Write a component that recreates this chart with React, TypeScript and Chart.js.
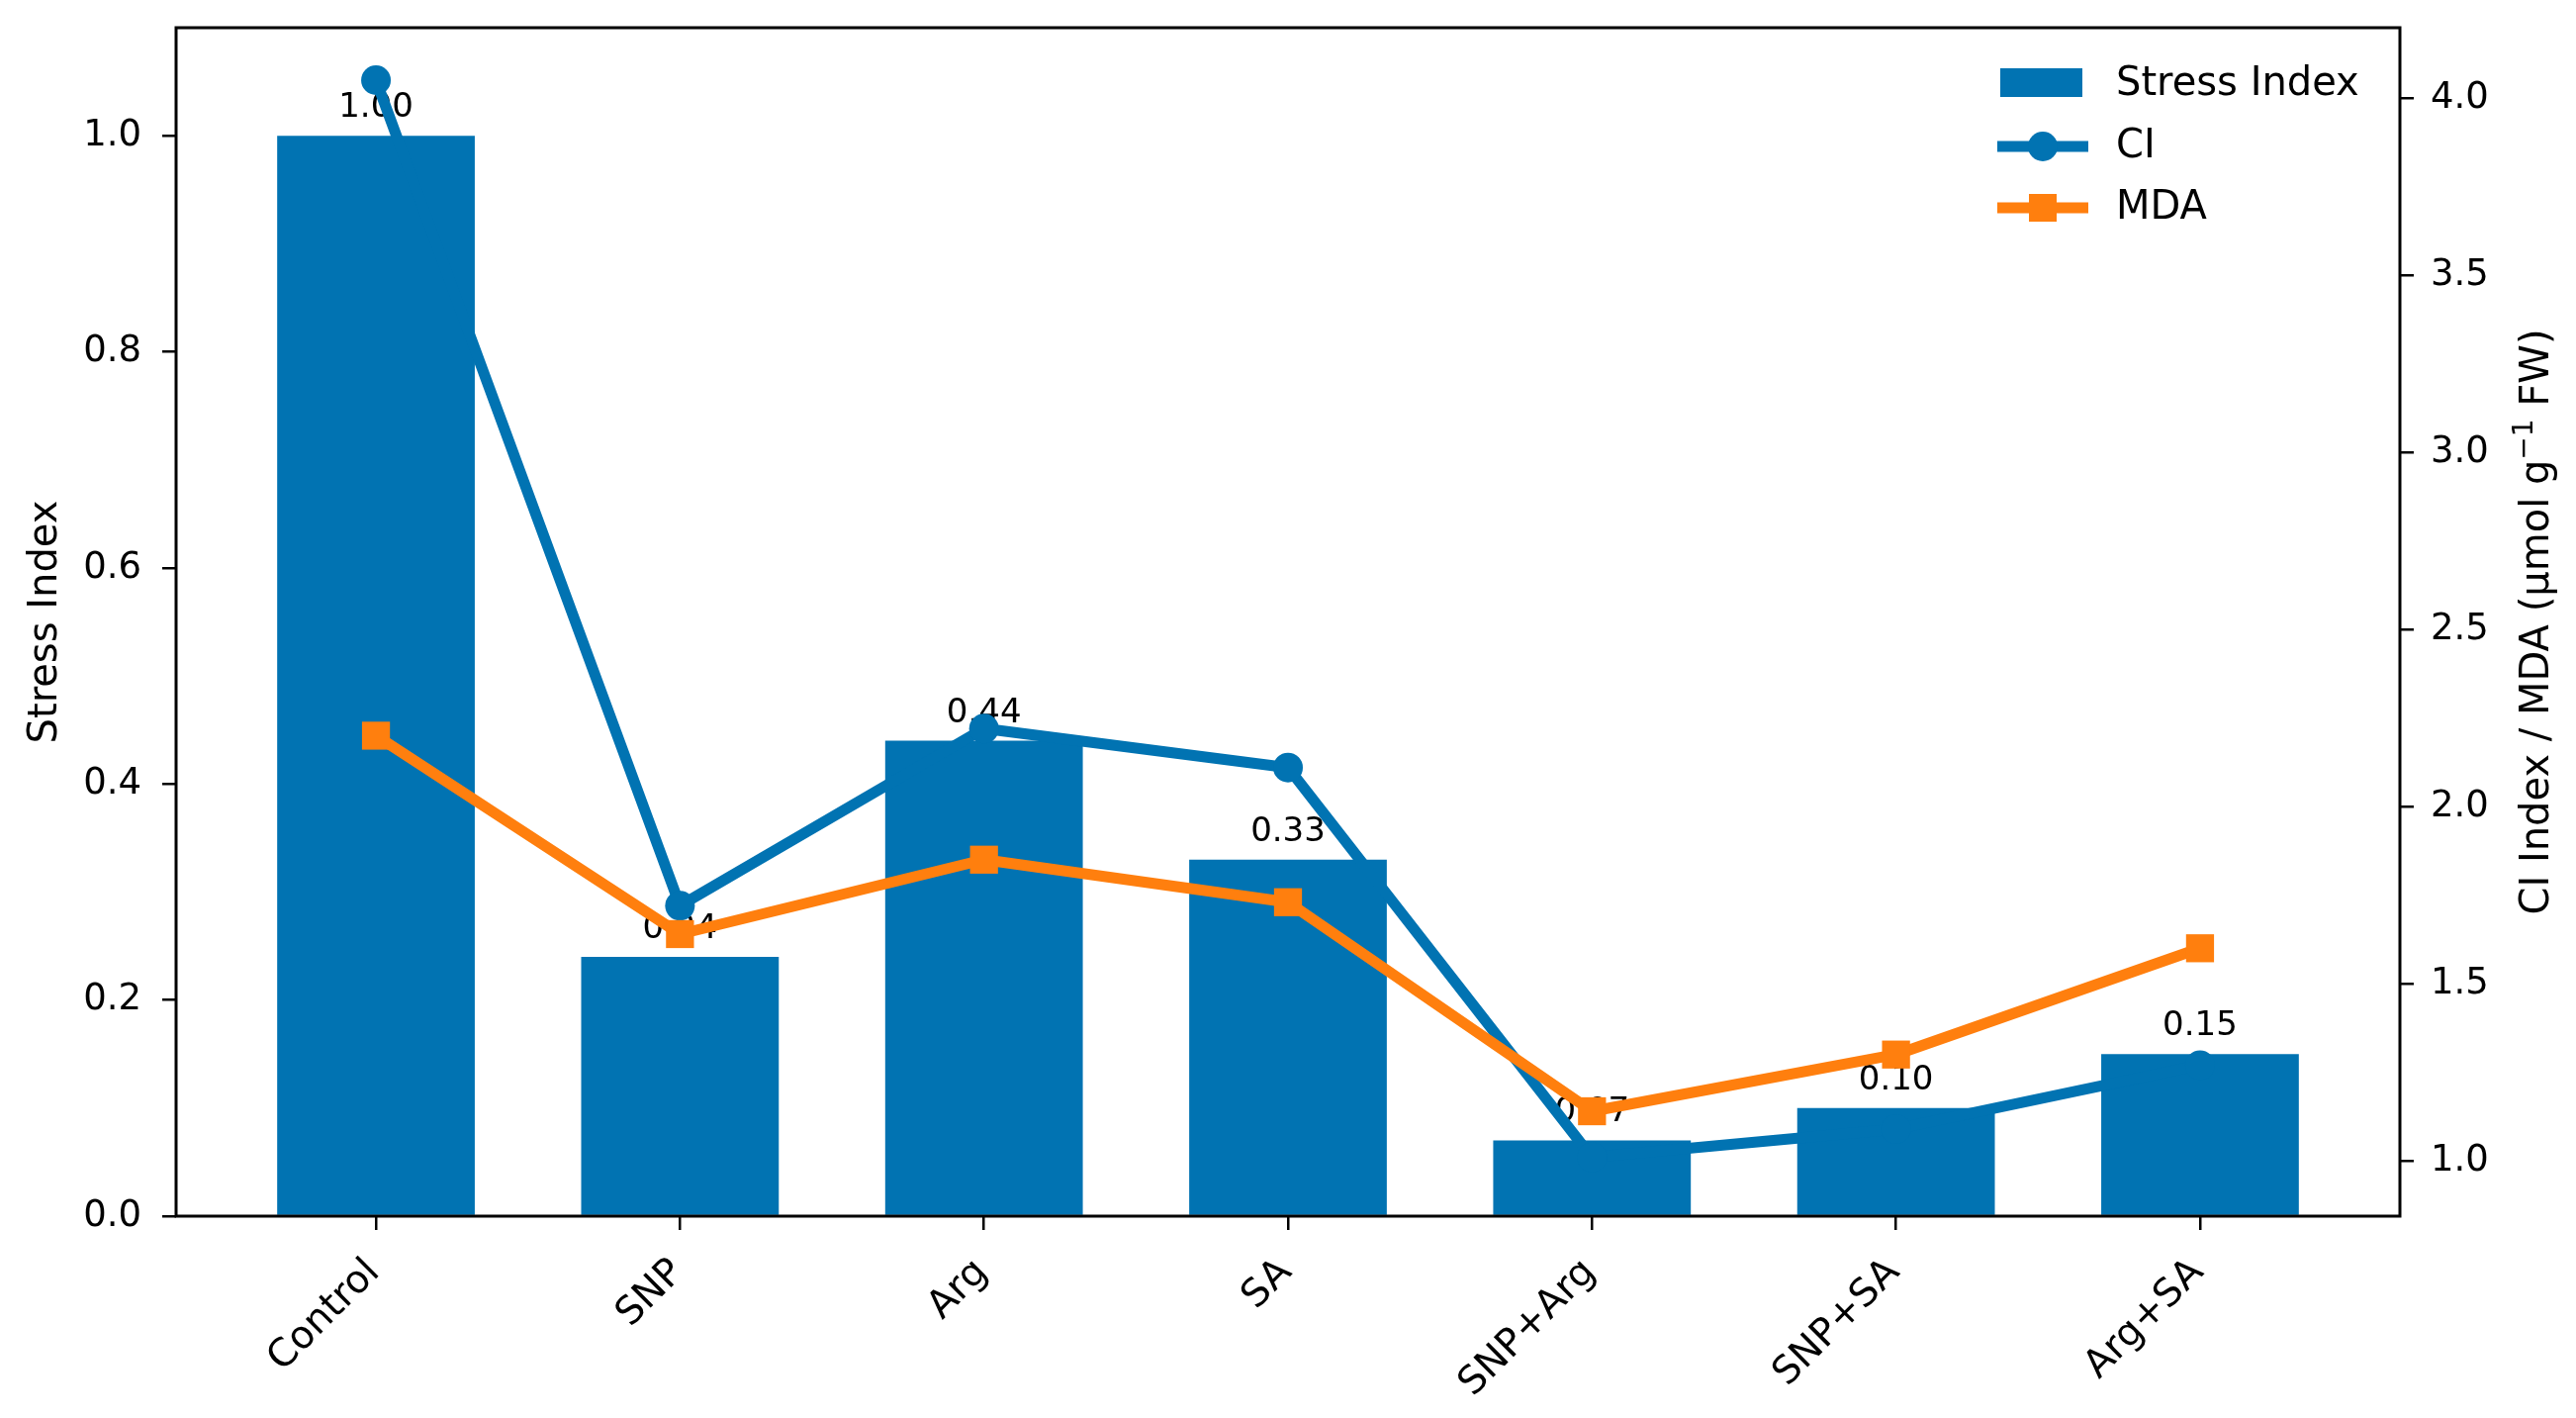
import { useEffect, useRef } from "react"
import Chart from "chart.js/auto"

const CATEGORIES = ["Control", "SNP", "Arg", "SA", "SNP+Arg", "SNP+SA", "Arg+SA"]
const STRESS_INDEX = [1.0, 0.24, 0.44, 0.33, 0.07, 0.1, 0.15]
const CI_VALUES = [4.05, 1.72, 2.22, 2.11, 1.01, 1.09, 1.27]
const MDA_VALUES = [2.2, 1.64, 1.85, 1.73, 1.14, 1.3, 1.6]
const LEFT_TICKS = [0, 0.2, 0.4, 0.6, 0.8, 1.0]
const RIGHT_TICKS = [1.0, 1.5, 2.0, 2.5, 3.0, 3.5, 4.0]

const BLUE = "#0173B2"
const ORANGE = "#FF7F0E"
const FONT = "'DejaVu Sans', sans-serif"
const LINE_W = 11

// outer box of the axes, like matplotlib spines
const framePlugin = {
  id: "frame",
  afterDatasetsDraw(chart: any) {
    const { ctx, chartArea: a } = chart
    ctx.save()
    ctx.strokeStyle = "#000"
    ctx.lineWidth = 3
    ctx.strokeRect(a.left, a.top, a.right - a.left, a.bottom - a.top)
    ctx.restore()
  },
}

// value labels above the bars, drawn right after the bars (under the lines)
const barLabelPlugin = {
  id: "barLabels",
  afterDatasetDraw(chart: any, args: any) {
    if (args.index !== 0) return
    const { ctx } = chart
    const meta = chart.getDatasetMeta(0)
    const ys = chart.scales.y
    ctx.save()
    ctx.font = `34px ${FONT}`
    ctx.fillStyle = "#000"
    ctx.textAlign = "center"
    ctx.textBaseline = "bottom"
    meta.data.forEach((el: any, i: number) => {
      const v = STRESS_INDEX[i]
      ctx.fillText(v.toFixed(2), el.x, ys.getPixelForValue(v + 0.01))
    })
    ctx.restore()
  },
}

const textPlugin = {
  id: "texts",
  afterDraw(chart: any) {
    const { ctx, chartArea: a } = chart
    const xs = chart.scales.x
    const midY = (a.top + a.bottom) / 2
    ctx.save()
    ctx.fillStyle = "#000"

    // rotated category labels
    ctx.font = `39px ${FONT}`
    ctx.textAlign = "right"
    ctx.textBaseline = "alphabetic"
    CATEGORIES.forEach((c, i) => {
      const x = xs.getPixelForValue(i)
      ctx.save()
      ctx.translate(x + 5, a.bottom + 58)
      ctx.rotate(-Math.PI / 4)
      ctx.fillText(c, 0, 0)
      ctx.restore()
    })

    // left title
    ctx.font = `40px ${FONT}`
    ctx.textAlign = "center"
    ctx.save()
    ctx.translate(57, midY)
    ctx.rotate(-Math.PI / 2)
    ctx.fillText("Stress Index", 0, 0)
    ctx.restore()

    // right title with superscript
    const p1 = "CI Index / MDA (µmol g"
    const p2 = "\u22121"
    const p3 = " FW)"
    ctx.font = `40px ${FONT}`
    const w1 = ctx.measureText(p1).width
    const w3 = ctx.measureText(p3).width
    ctx.font = `28px ${FONT}`
    const w2 = ctx.measureText(p2).width
    const total = w1 + w2 + w3
    ctx.save()
    ctx.translate(a.right + 150, midY)
    ctx.rotate(-Math.PI / 2)
    ctx.textAlign = "left"
    let sx = -total / 2
    ctx.font = `40px ${FONT}`
    ctx.fillText(p1, sx, 0)
    sx += w1
    ctx.font = `28px ${FONT}`
    ctx.fillText(p2, sx, -16)
    sx += w2
    ctx.font = `40px ${FONT}`
    ctx.fillText(p3, sx, 0)
    ctx.restore()

    // legend
    const R = a.right
    const T = a.top
    ctx.fillStyle = BLUE
    ctx.fillRect(R - 404, T + 41, 83, 29)
    const drawLine = (y: number, color: string, shape: string) => {
      ctx.strokeStyle = color
      ctx.fillStyle = color
      ctx.lineWidth = LINE_W
      ctx.beginPath()
      ctx.moveTo(R - 407, y)
      ctx.lineTo(R - 315, y)
      ctx.stroke()
      if (shape === "circle") {
        ctx.beginPath()
        ctx.arc(R - 361, y, 15, 0, Math.PI * 2)
        ctx.fill()
      } else {
        ctx.fillRect(R - 361 - 14, y - 14, 28, 28)
      }
    }
    drawLine(T + 120, BLUE, "circle")
    drawLine(T + 182, ORANGE, "rect")
    ctx.fillStyle = "#000"
    ctx.font = `40px ${FONT}`
    ctx.textAlign = "left"
    ctx.textBaseline = "middle"
    ctx.fillText("Stress Index", R - 287, T + 58)
    ctx.fillText("CI", R - 287, T + 121)
    ctx.fillText("MDA", R - 287, T + 183)
    ctx.restore()
  },
}

export default function App() {
  const canvasRef = useRef<HTMLCanvasElement | null>(null)

  useEffect(() => {
    if (!canvasRef.current) return
    const ctx = canvasRef.current.getContext("2d")
    if (!ctx) return

    const tickGrid = {
      display: true,
      drawOnChartArea: false,
      drawTicks: true,
      tickLength: 14,
      color: "#000",
      lineWidth: 2.5,
      offset: false,
    }

    const fitY = (s: any) => {
      s.width = 178
      s.paddingTop = 0
      s.paddingBottom = 0
    }

    const chart = new Chart(ctx, {
      type: "bar",
      data: {
        datasets: [
          {
            type: "bar",
            label: "Stress Index",
            data: STRESS_INDEX.map((v, i) => ({ x: i, y: v })),
            backgroundColor: BLUE,
            borderWidth: 0,
            yAxisID: "y",
            order: 3,
            barPercentage: 0.65,
            categoryPercentage: 1,
          },
          {
            type: "line",
            label: "CI",
            data: CI_VALUES.map((v, i) => ({ x: i, y: v })),
            borderColor: BLUE,
            backgroundColor: BLUE,
            borderWidth: LINE_W,
            borderJoinStyle: "round",
            pointStyle: "circle",
            pointRadius: 15,
            pointBorderWidth: 0,
            pointBackgroundColor: BLUE,
            yAxisID: "y1",
            order: 2,
            tension: 0,
          },
          {
            type: "line",
            label: "MDA",
            data: MDA_VALUES.map((v, i) => ({ x: i, y: v })),
            borderColor: ORANGE,
            backgroundColor: ORANGE,
            borderWidth: LINE_W,
            borderJoinStyle: "round",
            pointStyle: "rect",
            pointRadius: 20,
            pointBorderWidth: 0,
            pointBackgroundColor: ORANGE,
            yAxisID: "y1",
            order: 1,
            tension: 0,
          },
        ] as any,
      },
      options: {
        animation: false,
        responsive: true,
        maintainAspectRatio: false,
        devicePixelRatio: 1,
        events: [],
        layout: { padding: { top: 28, left: 0, right: 0, bottom: 0 } },
        plugins: { legend: { display: false }, tooltip: { enabled: false } },
        scales: {
          x: {
            type: "linear",
            position: "bottom",
            min: -0.6575,
            max: 6.6575,
            bounds: "data",
            offset: false,
            afterBuildTicks: (s: any) => {
              s.ticks = CATEGORIES.map((_, i) => ({ value: i }))
            },
            afterFit: (s: any) => {
              s.height = 204
              s.paddingLeft = 0
              s.paddingRight = 0
            },
            ticks: { display: false },
            grid: tickGrid,
            border: { display: false },
          },
          y: {
            type: "linear",
            position: "left",
            min: 0,
            max: 1.1,
            bounds: "data",
            afterBuildTicks: (s: any) => {
              s.ticks = LEFT_TICKS.map((v) => ({ value: v }))
            },
            afterFit: fitY,
            ticks: {
              font: { family: FONT, size: 37 },
              color: "#000",
              padding: 21,
              callback: (v: any) => Number(v).toFixed(1),
            },
            grid: tickGrid,
            border: { display: false },
          },
          y1: {
            type: "linear",
            position: "right",
            min: 0.844,
            max: 4.198,
            bounds: "data",
            afterBuildTicks: (s: any) => {
              s.ticks = RIGHT_TICKS.map((v) => ({ value: v }))
            },
            afterFit: fitY,
            ticks: {
              font: { family: FONT, size: 37 },
              color: "#000",
              padding: 17,
              callback: (v: any) => Number(v).toFixed(1),
            },
            grid: tickGrid,
            border: { display: false },
          },
        },
      } as any,
      plugins: [barLabelPlugin, framePlugin, textPlugin],
    })

    return () => {
      chart.destroy()
    }
  }, [])

  return (
    <>
      <style>{`body { margin: 0; background: #fff; }`}</style>
      <div style={{ width: 2604, height: 1433, position: "relative" }}>
        <canvas ref={canvasRef} />
      </div>
    </>
  )
}
